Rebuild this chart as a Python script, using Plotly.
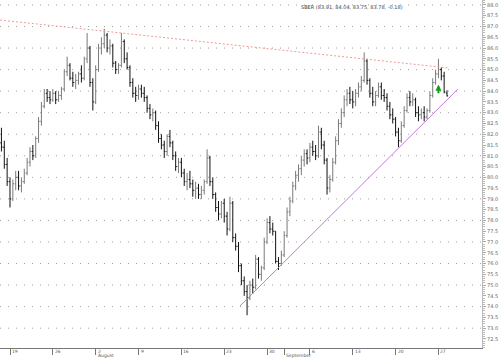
import pandas as pd
import plotly.graph_objects as go

# ---- data: 3 intraday bars per trading day ----
days = pd.bdate_range("2010-07-16", "2010-09-28")
bar_hours = ["10:00", "13:00", "16:00"]

opens = [
    81.6, 81.4, 80.6,   79.8, 79.0, 79.7,   80.0, 79.6, 79.8,   80.2, 80.7, 81.2,
    81.0, 81.8, 82.6,   83.3, 83.9, 83.7,   83.6, 83.9, 83.6,   83.8, 84.1, 84.9,
    85.2, 84.6, 84.4,   84.5, 84.8, 84.6,   85.5, 86.0, 84.4,   83.5, 85.0, 86.0,
    86.2, 86.6, 86.0,   86.1, 85.3, 85.0,   85.2, 86.3, 85.5,   85.1, 84.4, 83.9,
    83.8, 84.1, 83.9,   83.7, 83.2, 82.9,   83.0, 82.4, 81.8,   81.5, 81.2, 81.9,
    81.6, 81.0, 80.5,   80.7, 80.2, 79.8,   79.9, 79.7, 79.4,   79.5, 79.2, 79.4,
    79.8, 80.9, 79.8,   79.2, 78.6, 78.3,   78.8, 78.2, 77.6,   78.8, 77.2, 76.8,
    75.9, 75.2, 74.7,   74.4, 75.0, 74.9,   76.2, 75.5, 75.8,   77.0, 77.9, 77.6,
    77.5, 76.1, 76.0,   76.4, 77.3, 78.4,   78.9, 79.6, 80.1,   80.4, 80.8, 81.1,
    80.9, 81.4, 81.2,   81.0, 82.1, 81.5,   80.8, 79.5, 79.9,   80.7, 81.7, 82.5,
    83.0, 83.6, 83.9,   83.6, 83.5, 83.9,   84.2, 84.5, 85.4,   84.5, 83.9, 83.5,
    83.8, 84.2, 83.8,   83.7, 83.3, 82.9,   82.7, 82.1, 81.7,   82.4, 83.1, 83.7,
    83.5, 83.6, 83.0,   82.9, 83.0, 82.8,   83.1, 83.8, 84.4,   84.8, 85.0, 84.7,
    83.91,
]
highs = [
    82.3, 81.7, 80.9,   80.0, 79.9, 80.3,   80.3, 80.0, 80.4,   80.9, 81.4, 81.5,
    81.9, 82.8, 83.5,   84.1, 84.1, 84.0,   84.1, 84.0, 84.0,   84.2, 85.0, 85.6,
    85.3, 84.9, 84.8,   84.9, 85.2, 85.6,   86.7, 86.1, 84.6,   85.2, 86.2, 86.5,
    86.9, 86.7, 86.4,   86.2, 85.4, 85.3,   86.7, 86.4, 85.8,   85.2, 84.6, 84.2,
    84.3, 84.3, 84.2,   83.8, 83.4, 83.2,   83.1, 82.6, 82.0,   81.7, 82.0, 82.2,
    81.7, 81.2, 80.9,   80.9, 80.4, 80.2,   80.3, 79.9, 79.8,   79.7, 79.6, 79.9,
    81.3, 81.0, 80.0,   79.3, 78.9, 78.9,   79.0, 78.4, 79.1,   78.9, 77.4, 77.0,
    76.0, 75.4, 75.0,   75.2, 75.3, 76.4,   76.3, 75.9, 77.2,   78.1, 78.2, 77.9,
    77.5, 76.3, 76.6,   77.5, 78.6, 79.1,   79.8, 80.3, 80.6,   81.0, 81.3, 81.3,
    81.6, 81.7, 81.5,   82.4, 82.3, 81.7,   80.9, 80.1, 80.9,   81.9, 82.7, 83.2,
    83.8, 84.1, 84.2,   84.0, 84.1, 84.4,   84.7, 85.8, 85.5,   84.6, 84.2, 84.0,
    84.4, 84.4, 84.1,   83.9, 83.5, 83.2,   82.8, 82.3, 82.6,   83.3, 83.9, 84.0,
    83.9, 83.7, 83.3,   83.2, 83.3, 83.2,   84.0, 84.6, 85.0,   85.5, 85.1, 84.9,
    84.04,
]
lows = [
    81.2, 80.4, 79.6,   78.6, 78.9, 79.4,   79.4, 79.3, 79.7,   80.1, 80.5, 80.8,
    80.9, 81.6, 82.4,   83.2, 83.5, 83.4,   83.5, 83.4, 83.5,   83.6, 84.0, 84.7,
    84.5, 84.2, 84.1,   84.3, 84.4, 84.5,   85.3, 84.2, 83.1,   83.4, 84.9, 85.7,
    86.0, 85.8, 85.7,   85.1, 84.8, 84.8,   85.1, 85.3, 85.0,   84.2, 83.7, 83.5,
    83.6, 83.7, 83.5,   83.0, 82.7, 82.6,   82.2, 81.6, 81.3,   80.9, 81.0, 81.4,
    80.8, 80.3, 80.2,   80.0, 79.6, 79.4,   79.5, 79.1, 79.0,   79.0, 79.0, 79.2,
    79.7, 79.6, 79.0,   78.4, 78.0, 78.1,   77.9, 77.3, 77.5,   77.0, 76.6, 75.6,
    75.0, 74.5, 73.6,   74.3, 74.6, 74.8,   75.3, 75.2, 75.7,   76.9, 77.4, 77.3,
    76.0, 75.7, 75.9,   76.3, 77.2, 78.2,   78.8, 79.4, 79.8,   80.1, 80.5, 80.6,
    80.7, 81.0, 80.8,   80.9, 81.3, 80.6,   79.2, 79.3, 79.8,   80.6, 81.5, 82.3,
    82.8, 83.3, 83.4,   83.2, 83.3, 83.7,   84.0, 84.4, 84.3,   83.7, 83.3, 83.3,
    83.7, 83.6, 83.5,   83.1, 82.7, 82.5,   81.9, 81.4, 81.6,   82.3, 83.0, 83.3,
    83.3, 82.8, 82.6,   82.7, 82.6, 82.7,   83.0, 83.7, 84.3,   84.6, 84.5, 83.9,
    83.75,
]
closes = [
    81.4, 80.6, 79.8,   79.0, 79.7, 80.0,   79.6, 79.8, 80.2,   80.7, 81.2, 81.0,
    81.8, 82.6, 83.3,   83.9, 83.7, 83.6,   83.9, 83.6, 83.8,   84.1, 84.9, 85.2,
    84.6, 84.4, 84.5,   84.8, 84.6, 85.5,   86.0, 84.4, 83.5,   85.0, 86.0, 86.2,
    86.6, 86.0, 86.1,   85.3, 85.0, 85.2,   86.3, 85.5, 85.1,   84.4, 83.9, 83.8,
    84.1, 83.9, 83.7,   83.2, 82.9, 83.0,   82.4, 81.8, 81.5,   81.2, 81.9, 81.6,
    81.0, 80.5, 80.7,   80.2, 79.8, 79.9,   79.7, 79.4, 79.5,   79.2, 79.4, 79.8,
    80.9, 79.8, 79.2,   78.6, 78.3, 78.8,   78.2, 77.6, 78.8,   77.2, 76.8, 75.9,
    75.2, 74.7, 74.4,   75.0, 74.9, 76.2,   75.5, 75.8, 77.0,   77.9, 77.6, 77.5,
    76.1, 76.0, 76.4,   77.3, 78.4, 78.9,   79.6, 80.1, 80.4,   80.8, 81.1, 80.9,
    81.4, 81.2, 81.0,   82.1, 81.5, 80.8,   79.5, 79.9, 80.7,   81.7, 82.5, 83.0,
    83.6, 83.9, 83.6,   83.5, 83.9, 84.2,   84.5, 85.4, 84.5,   83.9, 83.5, 83.8,
    84.2, 83.8, 83.7,   83.3, 82.9, 82.7,   82.1, 81.7, 82.4,   83.1, 83.7, 83.5,
    83.6, 83.0, 82.9,   83.0, 82.8, 83.1,   83.8, 84.4, 84.8,   85.0, 84.7, 83.96,
    83.78,
]

# trend lines (resistance / support) and the buy-signal arrow
resistance_x = ["2010-07-15 17:30", "2010-09-28 11:00"]
resistance_y = [87.30, 85.08]
support_x = ["2010-08-24 17:30", "2010-09-29 12:30"]
support_y = [74.03, 84.10]
signal_x = ["2010-09-27 10:00"]
signal_y = [84.30]

week_ticks = ["2010-07-19", "2010-07-26", "2010-08-02", "2010-08-09", "2010-08-16",
              "2010-08-23", "2010-08-30", "2010-09-06", "2010-09-13", "2010-09-20",
              "2010-09-27"]
week_labels = ["19", "26", "2", "9", "16", "23", "30", "6", "13", "20", "27"]
month_ticks = ["2010-08-02", "2010-09-01"]
month_labels = ["August", "September"]
grid_levels = list(range(73, 89))

# ---- build timestamps ----
times = [pd.Timestamp(f"{d.date()} {h}") for d in days for h in bar_hours][:len(closes)]

fig = go.Figure()
fig.add_trace(go.Ohlc(
    x=times, open=opens, high=highs, low=lows, close=closes,
    increasing=dict(line=dict(color="#7a7a7a", width=1)),
    decreasing=dict(line=dict(color="#111111", width=1)),
    tickwidth=0.4, showlegend=False, hoverinfo="skip",
))
fig.add_trace(go.Scatter(x=resistance_x, y=resistance_y, mode="lines",
                         line=dict(color="#f29a9a", width=1, dash="2px,2px"),
                         showlegend=False, hoverinfo="skip"))
fig.add_trace(go.Scatter(x=support_x, y=support_y, mode="lines",
                         line=dict(color="#c27bd9", width=1),
                         showlegend=False, hoverinfo="skip"))

x_range = ["2010-07-15 17:30", "2010-10-04 10:45"]
y_range = [72.08, 88.23]

tick_times = [f"{t} 10:00" for t in week_ticks]
month_times = [f"{t} 10:00" for t in month_ticks]

fig.update_layout(
    width=500, height=358,
    margin=dict(l=0, r=18, t=0, b=10),
    paper_bgcolor="white", plot_bgcolor="white",
    font=dict(family="DejaVu Sans", size=5, color="#555"),
    xaxis=dict(
        type="date", range=x_range,
        rangebreaks=[dict(bounds=["sat", "mon"]), dict(pattern="hour", bounds=[19, 10])],
        rangeslider=dict(visible=False),
        tickmode="array", tickvals=tick_times + month_times[1:],
        showticklabels=False, ticks="outside", ticklen=6, tickcolor="#777",
        showline=True, linecolor="#777", linewidth=1,
        showgrid=False, zeroline=False, automargin=False,
    ),
    yaxis=dict(
        side="right", range=y_range, dtick=0.5, tick0=0, tickformat=".1f",
        ticks="outside", ticklen=3, tickcolor="#aaa",
        minor=dict(dtick=0.1, ticks="outside", ticklen=2, tickcolor="#bbb", showgrid=False),
        showline=True, linecolor="#bbb", linewidth=1,
        showgrid=False, zeroline=False, automargin=False,
        tickfont=dict(size=5, color="#666"),
    ),
)

for lvl in grid_levels:
    fig.add_hline(y=lvl, line=dict(color="#a0a0a0", width=1, dash="1px,7px"), layer="below")

annotations = []
for t, lab in zip(tick_times, week_labels):
    annotations.append(dict(x=t, y=0, xref="x", yref="paper", text=lab,
                            showarrow=False, xanchor="left", yanchor="top",
                            xshift=0, yshift=1, font=dict(size=4.5, color="#555")))
for t, lab in zip(month_times, month_labels):
    annotations.append(dict(x=t, y=0, xref="x", yref="paper", text=lab,
                            showarrow=False, xanchor="left", yanchor="top",
                            xshift=0, yshift=-3, font=dict(size=4.5, color="#555")))
title_text = "SBER ({:.2f}, {:.2f}, {:.2f}, {:.2f}, {:.2f})".format(
    opens[-1], highs[-1], lows[-1], closes[-1], closes[-1] - closes[-2])
annotations.append(dict(x=0.62, y=1, xref="paper", yref="paper", text=title_text,
                        showarrow=False, xanchor="left", yanchor="top", yshift=-2,
                        font=dict(size=5, color="#444")))
annotations.append(dict(x=signal_x[0], y=signal_y[0], xref="x", yref="y", text="",
                        showarrow=True, arrowhead=2, arrowsize=0.6, arrowwidth=2,
                        arrowcolor="#12a012", ax=0, ay=10))
fig.update_layout(annotations=annotations)

fig.write_html("out.html", config={"displayModeBar": False},
               post_script="document.body.style.margin='0';document.body.style.padding='0';")
